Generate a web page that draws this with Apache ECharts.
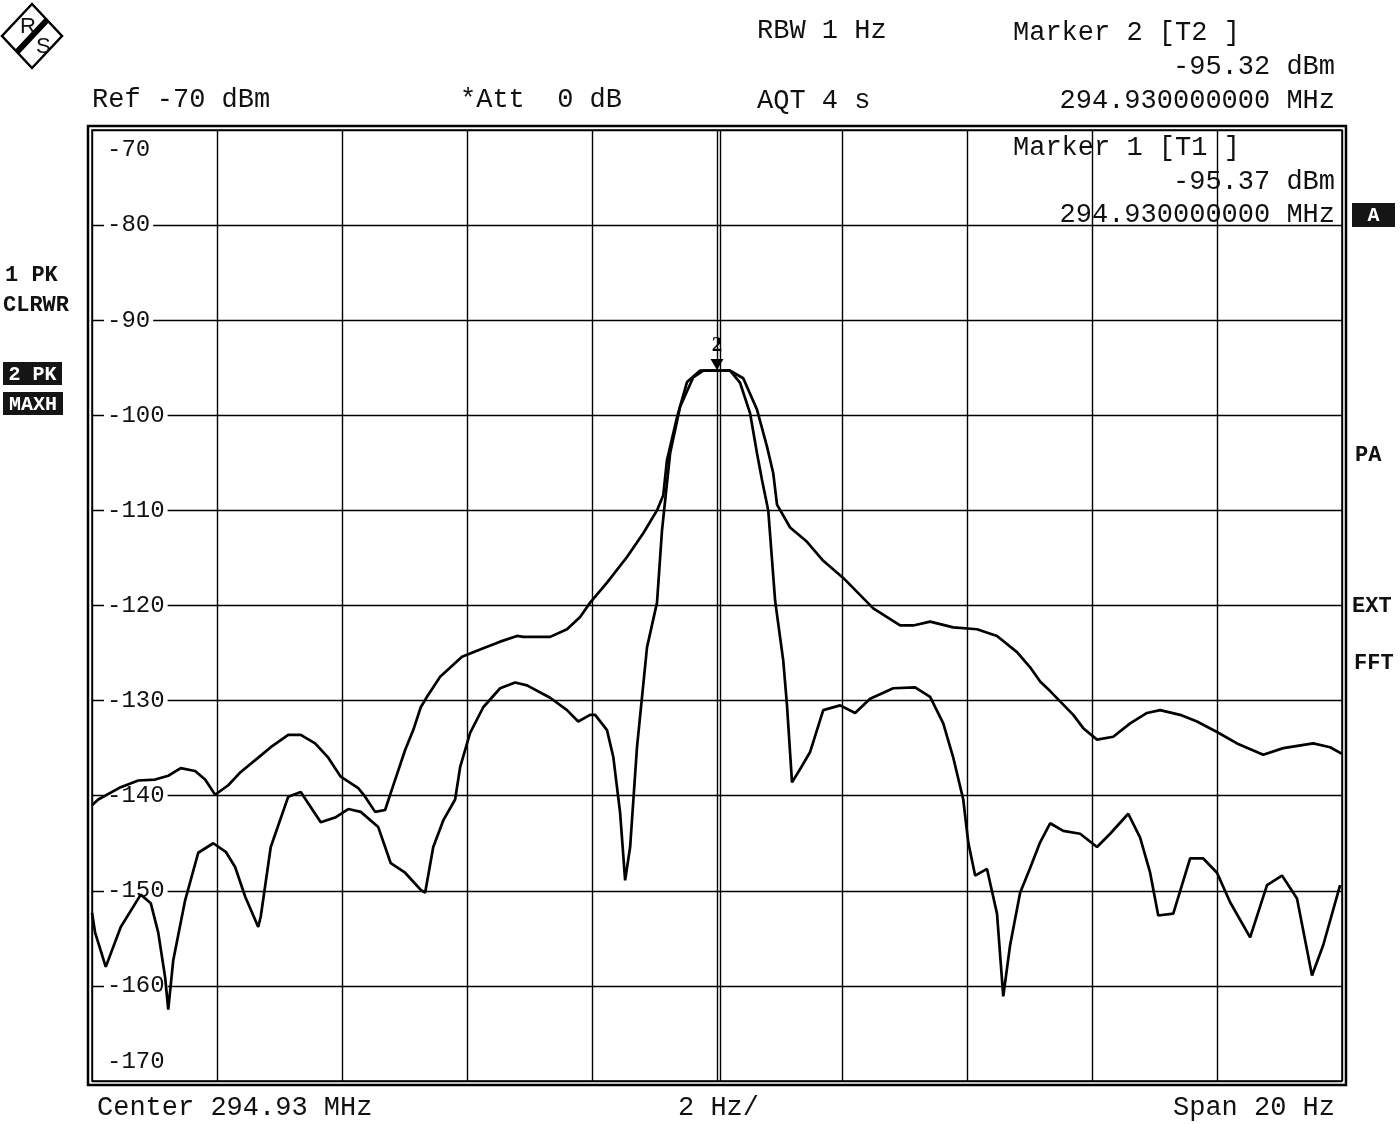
<!DOCTYPE html>
<html>
<head>
<meta charset="utf-8">
<script src="https://cdn.jsdelivr.net/npm/echarts@6/dist/echarts.min.js"></script>
<style>
  html, body { margin: 0; padding: 0; background: #fff; }
  #chart { width: 1400px; height: 1124px; }
</style>
</head>
<body>
<div id="chart"></div>
<script>
// frequency offset from centre (Hz) and level (dBm)
const trace1 = [
  [-10.0, -152.3], [-9.95, -154.4], [-9.78, -158.0], [-9.54, -153.8], [-9.22, -150.4], [-9.06, -151.3],
  [-8.94, -154.4], [-8.83, -159.1], [-8.78, -162.5], [-8.70, -157.3], [-8.51, -151.0], [-8.30, -146.0],
  [-8.06, -145.0], [-7.86, -145.9], [-7.71, -147.5], [-7.55, -150.6], [-7.34, -153.8], [-7.30, -152.7],
  [-7.14, -145.4], [-6.86, -140.1], [-6.66, -139.6], [-6.34, -142.8], [-6.11, -142.3], [-5.90, -141.4],
  [-5.70, -141.7], [-5.42, -143.3], [-5.22, -147.1], [-4.99, -148.1], [-4.74, -149.9], [-4.67, -150.2],
  [-4.54, -145.4], [-4.38, -142.6], [-4.19, -140.4], [-4.11, -137.0], [-3.95, -133.4], [-3.74, -130.7],
  [-3.47, -128.7], [-3.23, -128.1], [-3.04, -128.4], [-2.67, -129.7], [-2.40, -131.0], [-2.22, -132.2],
  [-2.03, -131.5], [-1.95, -131.5], [-1.76, -133.1], [-1.66, -135.9], [-1.55, -141.8], [-1.47, -148.9],
  [-1.39, -145.4], [-1.28, -134.9], [-1.12, -124.4], [-0.96, -119.7], [-0.88, -112.1], [-0.75, -104.0],
  [-0.59, -99.1], [-0.38, -96.0], [-0.22, -95.3], [0, -95.3], [0.21, -95.3], [0.37, -96.6],
  [0.53, -99.8], [0.64, -104.0], [0.72, -106.8], [0.82, -110.0], [0.93, -119.5], [1.06, -125.8],
  [1.12, -130.5], [1.20, -138.6], [1.33, -137.2], [1.49, -135.4], [1.70, -131.0], [1.97, -130.5],
  [2.21, -131.3], [2.45, -129.8], [2.82, -128.7], [3.17, -128.6], [3.41, -129.6], [3.62, -132.4],
  [3.78, -136.0], [3.94, -140.4], [4.02, -144.9], [4.13, -148.4], [4.32, -147.7], [4.48, -152.4],
  [4.58, -161.1], [4.69, -155.7], [4.85, -150.2], [5.01, -147.6], [5.17, -144.9], [5.33, -142.9],
  [5.54, -143.7], [5.81, -144.0], [6.08, -145.4], [6.29, -144.0], [6.58, -141.9], [6.77, -144.4],
  [6.93, -148.1], [7.06, -152.6], [7.30, -152.4], [7.57, -146.6], [7.78, -146.6], [8.00, -148.1],
  [8.21, -151.2], [8.53, -154.9], [8.80, -149.4], [9.04, -148.4], [9.28, -150.8], [9.52, -158.9],
  [9.70, -155.7], [9.97, -149.4]
];

const trace2 = [
  [-10.0, -141.0], [-9.90, -140.4], [-9.54, -139.1], [-9.26, -138.4], [-8.99, -138.3], [-8.78, -137.9],
  [-8.58, -137.1], [-8.35, -137.4], [-8.19, -138.3], [-8.03, -139.9], [-7.82, -138.9], [-7.62, -137.5],
  [-7.34, -136.0], [-7.14, -134.9], [-6.86, -133.6], [-6.66, -133.6], [-6.43, -134.5], [-6.22, -136.0],
  [-6.02, -138.0], [-5.74, -139.2], [-5.63, -140.1], [-5.47, -141.7], [-5.31, -141.5], [-5.22, -139.7],
  [-4.99, -135.2], [-4.86, -133.1], [-4.74, -130.7], [-4.64, -129.6], [-4.43, -127.5], [-4.08, -125.4],
  [-3.74, -124.5], [-3.47, -123.8], [-3.20, -123.2], [-3.10, -123.3], [-2.67, -123.3], [-2.40, -122.5],
  [-2.19, -121.2], [-2.03, -119.7], [-1.76, -117.6], [-1.44, -114.9], [-1.18, -112.4], [-0.96, -110.0],
  [-0.86, -108.4], [-0.80, -104.7], [-0.64, -100.2], [-0.48, -96.5], [-0.27, -95.3], [0, -95.3],
  [0.21, -95.3], [0.42, -96.1], [0.64, -99.4], [0.80, -103.3], [0.90, -106.1], [0.96, -109.4],
  [1.17, -111.8], [1.44, -113.3], [1.70, -115.3], [2.02, -117.1], [2.50, -120.3], [2.93, -122.1],
  [3.14, -122.1], [3.41, -121.7], [3.78, -122.3], [4.16, -122.5], [4.48, -123.2], [4.80, -124.9],
  [5.01, -126.5], [5.17, -128.0], [5.33, -129.0], [5.70, -131.5], [5.86, -132.9], [6.08, -134.1],
  [6.34, -133.8], [6.61, -132.4], [6.88, -131.3], [7.09, -131.0], [7.41, -131.5], [7.68, -132.2],
  [8.00, -133.3], [8.32, -134.5], [8.74, -135.7], [9.06, -135.0], [9.54, -134.5], [9.81, -134.9],
  [10.0, -135.6]
];

const marker2 = [0, -95.3];
const yTicks = { min: -170, max: -70, step: 10 };
const xTicks = { min: -10, max: 10, step: 2 };

const MONO = '"Liberation Mono", "DejaVu Sans Mono", monospace';
const INK = '#111';

function txt(x, y, s, opts) {
  opts = opts || {};
  return {
    type: 'text', x: x, y: y, z: 10,
    style: {
      text: s,
      font: (opts.bold ? 'bold ' : '') + (opts.size || 27) + 'px ' + (opts.family || MONO),
      fill: opts.fill || INK,
      textAlign: opts.align || 'left',
      textVerticalAlign: 'middle'
    }
  };
}
function badge(x, y, w, h, s) {
  return {
    type: 'group', x: x, y: y, z: 10,
    children: [
      { type: 'rect', shape: { x: 0, y: 0, width: w, height: h }, style: { fill: '#151515' } },
      { type: 'text', x: w / 2, y: h / 2 + 1, style: { text: s, font: 'bold 20px "Liberation Mono", monospace', fill: '#fff', textAlign: 'center', textVerticalAlign: 'middle' } }
    ]
  };
}

const chart = echarts.init(document.getElementById('chart'));
chart.setOption({
  backgroundColor: '#fff',
  animation: false,
  grid: { left: 92, top: 130, right: 58, bottom: 43, show: true, borderColor: '#000', borderWidth: 1.5, backgroundColor: 'transparent' },
  xAxis: {
    type: 'value', min: xTicks.min, max: xTicks.max, interval: xTicks.step,
    axisLine: { show: false }, axisTick: { show: false }, axisLabel: { show: false },
    splitLine: { lineStyle: { color: '#000', width: 1.4 } }
  },
  yAxis: {
    type: 'value', min: yTicks.min, max: yTicks.max, interval: yTicks.step,
    axisLine: { show: false }, axisTick: { show: false },
    splitLine: { lineStyle: { color: '#000', width: 1.4 } },
    axisLabel: {
      inside: true, margin: 12,
      formatter: function (v) {
        if (v === yTicks.max) return '{top|' + v + '}';
        if (v === yTicks.min) return '{bot|' + v + '}';
        return '{mid|' + v + '}';
      },
      rich: {
        mid: { fontFamily: MONO, fontSize: 24, color: INK, backgroundColor: '#fff', padding: [0, 3] },
        top: { fontFamily: MONO, fontSize: 24, color: INK, padding: [40, 3, 0, 3] },
        bot: { fontFamily: MONO, fontSize: 24, color: INK, padding: [0, 3, 38, 3] }
      }
    }
  },
  series: [
    {
      name: 'Trace 1', type: 'line', data: trace1, showSymbol: false, symbol: 'none',
      lineStyle: { color: '#000', width: 2.7 }, z: 5,
      markLine: {
        silent: true, symbol: 'none', label: { show: false },
        lineStyle: { color: '#000', width: 1.4, type: 'solid' },
        data: [{ xAxis: 0.05 }]
      }
    },
    {
      name: 'Trace 2', type: 'line', data: trace2, showSymbol: false, symbol: 'none',
      lineStyle: { color: '#000', width: 2.7 }, z: 6,
      markPoint: {
        symbol: 'triangle', symbolRotate: 180, symbolSize: [13, 11], symbolOffset: [0, -6],
        itemStyle: { color: '#000' },
        label: {
          show: true, position: 'top', distance: 3, formatter: '2', color: '#000',
          fontSize: 21, fontWeight: 'bold', fontFamily: '"Liberation Serif", serif'
        },
        data: [{ coord: marker2 }]
      }
    }
  ],
  graphic: [
    // R&S logo
    { type: 'polygon', shape: { points: [[32, 4], [62, 36], [32, 68], [2, 36]] }, style: { fill: 'none', stroke: '#000', lineWidth: 2.5 } },
    { type: 'line', shape: { x1: 47, y1: 20, x2: 17, y2: 52 }, style: { stroke: '#000', lineWidth: 6 } },
    txt(20, 27, 'R', { size: 22, family: '"Liberation Sans", sans-serif' }),
    txt(36, 47, 'S', { size: 22, family: '"Liberation Sans", sans-serif' }),
    // outer frame
    { type: 'rect', shape: { x: 88, y: 126, width: 1258, height: 959 }, style: { fill: 'none', stroke: '#000', lineWidth: 2.5 } },
    // header
    txt(757, 31, 'RBW 1 Hz'),
    txt(1013, 33, 'Marker 2 [T2 ]'),
    txt(1335, 67, '-95.32 dBm', { align: 'right' }),
    txt(92, 100, 'Ref -70 dBm'),
    txt(460, 100, '*Att  0 dB'),
    txt(757, 101, 'AQT 4 s'),
    txt(1335, 101, '294.930000000 MHz', { align: 'right' }),
    txt(1013, 148, 'Marker 1 [T1 ]'),
    txt(1335, 182, '-95.37 dBm', { align: 'right' }),
    txt(1335, 215, '294.930000000 MHz', { align: 'right' }),
    // side annotations
    txt(5, 275, '1 PK', { size: 22, bold: true }),
    txt(3, 305, 'CLRWR', { size: 22, bold: true }),
    badge(3, 362, 59, 23, '2 PK'),
    badge(3, 392, 60, 23, 'MAXH'),
    badge(1352, 203, 43, 24, 'A'),
    txt(1355, 455, 'PA', { size: 22, bold: true }),
    txt(1352, 606, 'EXT', { size: 22, bold: true }),
    txt(1354, 663, 'FFT', { size: 22, bold: true }),
    // footer
    txt(97, 1108, 'Center 294.93 MHz'),
    txt(678, 1108, '2 Hz/'),
    txt(1335, 1108, 'Span 20 Hz', { align: 'right' })
  ]
});
</script>
</body>
</html>
